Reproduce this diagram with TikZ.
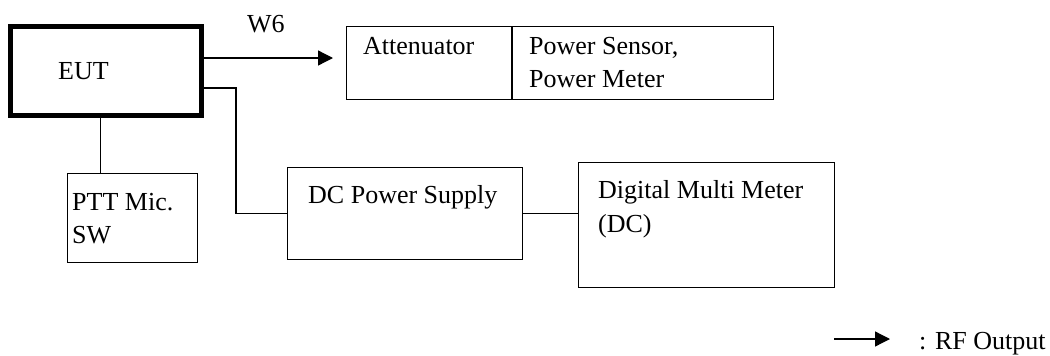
\documentclass[tikz,border=0pt]{standalone}
\usepackage{fontspec}
\setmainfont{Liberation Serif}
\usetikzlibrary{arrows.meta,calc}
\begin{document}
\begin{tikzpicture}[x=1pt,y=-1pt,
  box/.style={draw,rectangle,inner sep=0pt,line width=1.3pt},
  lbl/.style={anchor=base west,inner sep=0pt,font=\fontsize{26}{33}\selectfont},
  wire/.style={line width=1.3pt},
  rfarrow/.style={line width=1.3pt,-{Triangle[length=15pt,width=15pt]}}]
\useasboundingbox (0,0) rectangle (1050,356);
% boxes
\node[box,line width=5pt,minimum width=191pt,minimum height=89pt] (eut) at (106,71) {};
\node[box,minimum width=164.5pt,minimum height=72.7pt] (att) at (428.9,63) {};
\node[box,minimum width=260.8pt,minimum height=72.7pt] (pwr) at (642.95,63) {};
\node[box,minimum width=129.7pt,minimum height=88.7pt] (ptt) at (132.5,218) {};
\node[box,minimum width=234.7pt,minimum height=91.7pt] (dcps) at (405,213.5) {};
\node[box,minimum width=255.7pt,minimum height=124.7pt] (dmm) at (706.5,225) {};
% texts
\node[lbl] (teut) at (58,79) {EUT};
\node[lbl] (tw6) at (247,32) {W6};
\node[lbl] (tatt) at (363,54) {Attenuator};
\node[lbl] (tpwr1) at (529,54) {Power Sensor,};
\node[lbl] (tpwr2) at (529,87) {Power Meter};
\node[lbl] (tptt1) at (72,210) {PTT Mic.};
\node[lbl] (tptt2) at (72,243) {SW};
\node[lbl] (tdc) at (308,203) {DC Power Supply};
\node[lbl] (tdmm1) at (598,198) {Digital Multi Meter};
\node[lbl] (tdmm2) at (598,232) {(DC)};
\node[lbl] (trf) at (919,349) {: RF Output};
% connectors
\draw[rfarrow,shorten >=13pt] ([yshift=13pt]eut.east) -- ([yshift=13pt]eut.east -| att.west);
\draw[wire] ([xshift=-5.5pt]eut.south) -- ([xshift=-5.5pt]eut.south |- ptt.north);
\coordinate (bend) at (236,88);
\draw[wire] ([yshift=-17pt]eut.east) -- (bend) |- (dcps.west);
\draw[wire] (dcps.east) -- (dcps.east -| dmm.west);
% legend
\coordinate (lg) at (834,339);
\draw[rfarrow,shorten >=29pt] (lg) -- (lg -| trf.west);
\end{tikzpicture}
\end{document}
